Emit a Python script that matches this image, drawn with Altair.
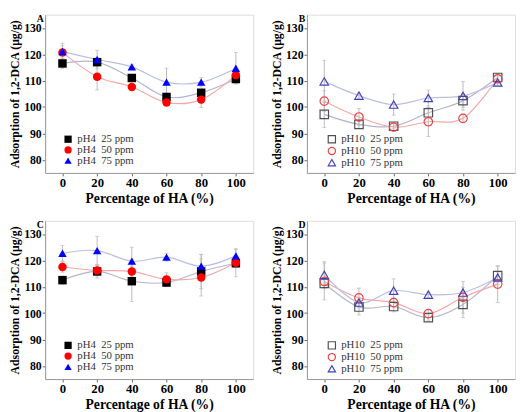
import altair as alt
import pandas as pd

ha_pct = [0, 20, 40, 60, 80, 100]
x_ticks = [0, 20, 40, 60, 80, 100]
y_ticks = [80, 90, 100, 110, 120, 130]
panel_letters = ["A", "B", "C", "D"]
labels_ph4 = ["pH4\u00a0\u00a025 ppm", "pH4\u00a0\u00a050 ppm", "pH4\u00a0\u00a075 ppm"]
labels_ph10 = ["pH10\u00a0\u00a025 ppm", "pH10\u00a0\u00a050 ppm", "pH10\u00a0\u00a075 ppm"]

# Panel A (pH4)
a_25 = [116.5, 117.0, 111.0, 103.8, 105.4, 110.6]
a_50 = [120.7, 111.5, 107.6, 101.7, 102.8, 112.1]
a_75 = [121.0, 118.0, 115.2, 109.4, 109.4, 114.7]
a_25_err = [2.0, 1.5, 1.0, 1.5, 1.0, 1.5]
a_50_err = [2.5, 5.0, 1.0, 1.0, 3.0, 1.5]
a_75_err = [3.2, 3.5, 1.0, 5.3, 1.8, 6.0]

# Panel B (pH10)
b_25 = [97.2, 93.4, 92.7, 97.8, 102.4, 111.2]
b_50 = [102.2, 96.2, 92.4, 94.4, 95.7, 110.7]
b_75 = [109.7, 104.3, 100.9, 103.4, 104.2, 109.3]
b_25_err = [5.0, 1.5, 1.0, 2.0, 2.5, 1.5]
b_50_err = [4.0, 3.2, 1.5, 5.6, 1.5, 1.0]
b_75_err = [8.0, 1.0, 4.0, 3.0, 5.4, 1.0]

# Panel C (pH4)
c_25 = [112.5, 115.8, 112.1, 111.6, 115.8, 118.9]
c_50 = [117.5, 116.2, 115.8, 112.8, 113.5, 119.1]
c_75 = [122.7, 123.7, 119.7, 121.2, 117.8, 121.7]
c_25_err = [1.5, 2.5, 7.7, 1.5, 6.5, 1.5]
c_50_err = [2.0, 2.0, 2.0, 2.5, 7.0, 5.3]
c_75_err = [3.0, 5.4, 5.3, 1.5, 4.4, 2.5]

# Panel D (pH10)
d_25 = [111.3, 102.3, 102.5, 98.3, 103.3, 114.2]
d_50 = [112.0, 105.8, 104.0, 99.8, 106.0, 111.0]
d_75 = [114.5, 104.0, 108.5, 107.0, 107.8, 113.5]
d_25_err = [2.0, 3.0, 2.0, 1.0, 5.0, 3.5]
d_50_err = [7.0, 3.7, 2.0, 1.5, 6.0, 7.0]
d_75_err = [5.0, 2.0, 4.5, 1.0, 2.0, 2.0]

ph4_point_colors = ["#000000", "#ff0000", "#0000ff"]
ph10_point_colors = ["#505050", "#e84545", "#4343b8"]
line_colors = ["#b4b4cc", "#f3a8a8", "#bdbde2"]
shapes = ["square", "circle", "triangle-up"]
FONT = "Liberation Serif"


def make_df(labels, vals, errs):
    rows = []
    for lab, v, e in zip(labels, vals, errs):
        for x, y, err in zip(ha_pct, v, e):
            rows.append({"x": x, "y": y, "lo": y - err, "hi": y + err, "series": lab})
    return pd.DataFrame(rows)


def panel(letter, labels, vals, errs, filled, point_colors, legend_x):
    df = make_df(labels, vals, errs)
    xs = alt.Scale(domain=[-10, 110], nice=False, zero=False)
    ys = alt.Scale(domain=[75, 135], nice=False, zero=False)
    xax = alt.Axis(values=x_ticks, title="Percentage of HA (%)", grid=False,
                   labelFont=FONT, labelFontWeight="bold", labelFontSize=13,
                   titleFont=FONT, titleFontWeight="bold", titleFontSize=14,
                   labelColor="#000", titleColor="#000", domainColor="#999",
                   tickColor="#666", tickSize=3, labelPadding=1, titlePadding=2,
                   labelFlush=False, labelOverlap=False)
    yax = alt.Axis(values=y_ticks, title="Adsorption of 1,2-DCA (μg/g)", grid=False,
                   labelFont=FONT, labelFontWeight="bold", labelFontSize=12,
                   titleFont=FONT, titleFontWeight="bold", titleFontSize=12,
                   labelColor="#000", titleColor="#000", domainColor="#999",
                   tickColor="#666", tickSize=3, labelPadding=1, titlePadding=2,
                   labelFlush=False, labelOverlap=False)
    base = alt.Chart(df)
    x_enc = alt.X("x:Q", scale=xs, axis=xax)
    y_enc = alt.Y("y:Q", scale=ys, axis=yax)
    rules = base.mark_rule(color="#bbbbbb", strokeWidth=1).encode(
        x=x_enc, y=alt.Y("lo:Q", scale=ys, axis=yax), y2="hi:Q")
    cap_lo = base.mark_tick(color="#bbbbbb", orient="horizontal", size=4, thickness=1).encode(
        x=x_enc, y=alt.Y("lo:Q", scale=ys, axis=yax))
    cap_hi = base.mark_tick(color="#bbbbbb", orient="horizontal", size=4, thickness=1).encode(
        x=x_enc, y=alt.Y("hi:Q", scale=ys, axis=yax))
    lines = base.mark_line(interpolate="cardinal", strokeWidth=1.2).encode(
        x=x_enc, y=y_enc,
        stroke=alt.Stroke("series:N", scale=alt.Scale(domain=labels, range=line_colors), legend=None),
        detail="series:N")
    legend = alt.Legend(title=None, orient="none", legendX=legend_x, legendY=122,
                        labelFont=FONT, labelFontSize=11, labelColor="#333",
                        symbolSize=55, rowPadding=-1, symbolStrokeWidth=1.2,
                        labelOffset=4)
    pts = base.mark_point(filled=filled, size=75, opacity=1, strokeWidth=1.2).encode(
        x=x_enc, y=y_enc,
        color=alt.Color("series:N", scale=alt.Scale(domain=labels, range=point_colors), legend=legend),
        shape=alt.Shape("series:N", scale=alt.Scale(domain=labels, range=shapes), legend=legend))
    lab = alt.Chart(pd.DataFrame({"t": [letter]})).mark_text(
        font=FONT, fontWeight="bold", fontSize=10, align="center", baseline="middle",
        color="#000").encode(text="t:N", x=alt.value(-5), y=alt.value(4))
    return alt.layer(rules, cap_lo, cap_hi, lines, pts, lab).properties(
        width=213, height=162).resolve_scale(color="independent", shape="independent")


pA = panel(panel_letters[0], labels_ph4, [a_25, a_50, a_75], [a_25_err, a_50_err, a_75_err], True, ph4_point_colors, 18)
pB = panel(panel_letters[1], labels_ph10, [b_25, b_50, b_75], [b_25_err, b_50_err, b_75_err], False, ph10_point_colors, 20)
pC = panel(panel_letters[2], labels_ph4, [c_25, c_50, c_75], [c_25_err, c_50_err, c_75_err], True, ph4_point_colors, 18)
pD = panel(panel_letters[3], labels_ph10, [d_25, d_50, d_75], [d_25_err, d_50_err, d_75_err], False, ph10_point_colors, 20)

top = alt.hconcat(pA, pB, spacing=16).resolve_scale(color="independent", shape="independent", stroke="independent")
bottom = alt.hconcat(pC, pD, spacing=16).resolve_scale(color="independent", shape="independent", stroke="independent")
chart = alt.vconcat(top, bottom, spacing=13, padding=0).resolve_scale(
    color="independent", shape="independent", stroke="independent").configure_view(
    stroke="#999999", strokeWidth=1.2).configure_axis(labelOverlap=False).configure(background="white")

chart.save("out.html", embed_options={"renderer": "svg", "actions": False})
